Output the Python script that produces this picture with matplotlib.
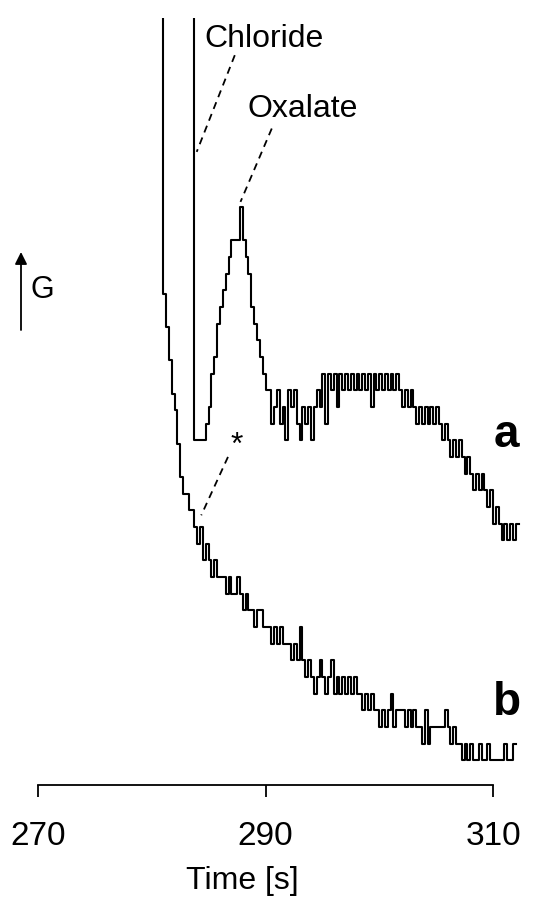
import numpy as np
import matplotlib.pyplot as plt

plt.rcParams['font.family'] = ['Liberation Sans', 'DejaVu Sans']

# detector output, quantised conductance counts, sampled every 0.25 s
DT = 0.25
start_a = 283.75
start_b = 281.0

# trace a: sample with chloride + oxalate
g_a = [60, 20, 20, 20, 20, 21, 22, 24, 25, 27, 28, 29, 30, 31, 32, 32, 32, 34, 32, 31,
       30, 28, 27, 26, 25, 24, 23, 23, 21, 22, 23, 21, 22, 20, 23, 22, 23, 21, 20, 22,
       21, 22, 20, 22, 23, 22, 24, 21, 24, 23, 24, 22, 24, 23, 24, 23, 24, 23, 24, 23,
       24, 23, 24, 22, 24, 23, 24, 23, 24, 23, 24, 23, 24, 23, 22, 23, 22, 23, 22, 21,
       22, 21, 22, 21, 22, 21, 22, 21, 20, 21, 20, 19, 20, 19, 20, 19, 18, 19, 18, 17,
       18, 17, 18, 17, 16, 17, 15, 16, 15, 14, 15, 14, 15, 14, 15]
offset_a = 0.2

# trace b: blank run
g_b = [60, 29, 27, 25, 23, 22, 20, 18, 17, 17, 16, 16, 15, 14, 15, 13, 14, 13, 12, 13,
       12, 12, 12, 11, 12, 11, 11, 12, 11, 10, 11, 10, 10, 9, 10, 10, 9, 9, 9, 8,
       9, 8, 9, 8, 8, 8, 7, 8, 7, 9, 7, 6, 7, 6, 5, 6, 7, 6, 5, 6,
       7, 5, 6, 5, 6, 5, 6, 5, 6, 5, 5, 4, 5, 4, 5, 4, 4, 3, 4, 3,
       4, 5, 3, 4, 4, 4, 3, 4, 3, 4, 3, 3, 2, 4, 2, 3, 3, 3, 3, 3,
       4, 3, 2, 3, 2, 2, 1, 2, 1, 2, 1, 1, 2, 1, 1, 2, 1, 1, 1, 1,
       1, 2, 1, 1, 2]

t_a = start_a + DT * np.arange(len(g_a))
t_b = start_b + DT * np.arange(len(g_b))

xticks = [270, 290, 310]

fig = plt.figure(figsize=(5.42, 9.01), dpi=100)
ax = fig.add_axes([38 / 542, 116 / 901, 492 / 542, 767 / 901])

ax.plot(t_a, np.array(g_a) + offset_a, color='black', lw=1.5, drawstyle='steps-pre')
ax.plot(t_b, g_b, color='black', lw=1.5, drawstyle='steps-pre')

ax.set_xlim(270, 313.25)
ax.set_ylim(-0.48, 45.53)

for s in ['top', 'left', 'right']:
    ax.spines[s].set_visible(False)
ax.spines['bottom'].set_bounds(270, 310)
ax.spines['bottom'].set_linewidth(1.3)
ax.set_yticks([])
ax.set_xticks(xticks)
ax.set_xticklabels([str(x) for x in xticks])
ax.tick_params(axis='x', length=8.6, width=1.3, pad=17, labelsize=24)
ax.set_xlabel('Time [s]', fontsize=23)
ax.xaxis.set_label_coords(0.415, -0.105)

# peak labels with dashed leaders
dash = dict(color='black', lw=1.3, linestyle=(0, (4, 3)))
ax.text(284.6, 43.8, 'Chloride', fontsize=23, va='baseline')
ax.plot([287.3, 283.95], [43.3, 37.5], **dash)
ax.text(288.4, 39.6, 'Oxalate', fontsize=23, va='baseline')
ax.plot([290.55, 287.8], [38.9, 34.5], **dash)
ax.text(287.5, 19.4, '*', fontsize=23, ha='center', va='baseline')
ax.plot([286.7, 284.35], [19.2, 15.7], **dash)

ax.text(311.2, 19.8, 'a', fontsize=33, fontweight='bold', ha='center', va='baseline')
ax.text(311.2, 3.7, 'b', fontsize=33, fontweight='bold', ha='center', va='baseline')

# conductance direction arrow
ax.annotate('', xy=(21, 901 - 252), xytext=(21, 901 - 330),
            xycoords='figure pixels', textcoords='figure pixels',
            arrowprops=dict(arrowstyle='-|>', color='black', lw=1.3,
                            mutation_scale=18, shrinkA=0, shrinkB=0))
fig.text(30, 901 - 298, 'G', fontsize=22, va='baseline', transform=None)

fig.savefig('out.png', dpi=100)
